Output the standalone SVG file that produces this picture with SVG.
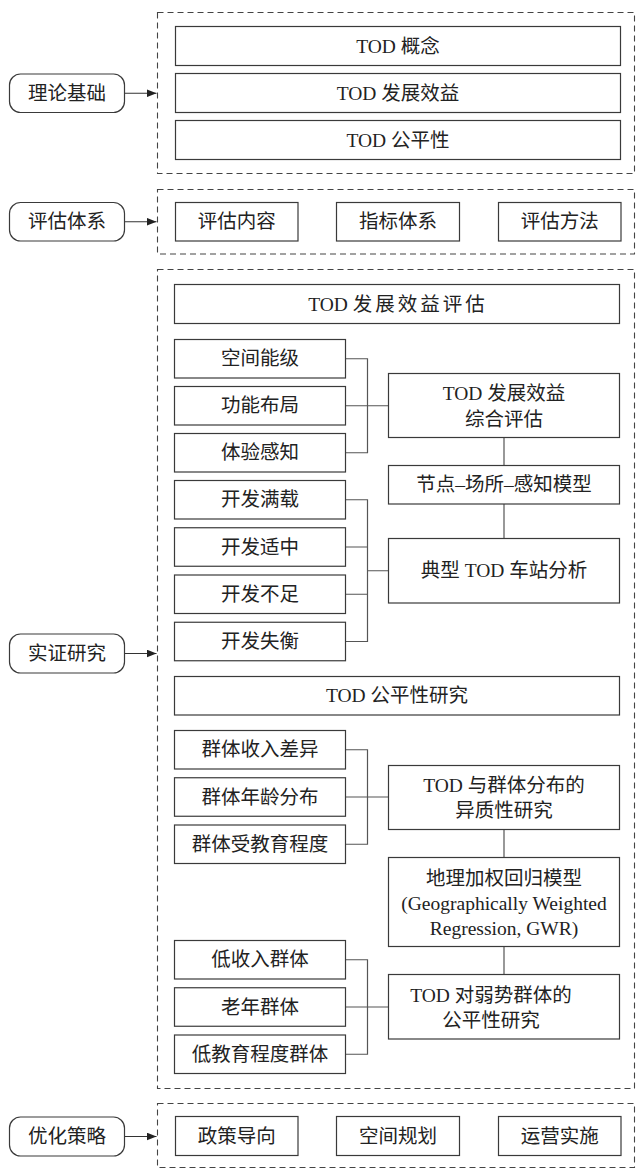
<svg xmlns="http://www.w3.org/2000/svg" width="636" height="1169" viewBox="0 0 636 1169">
<defs>
<style>
.bg{fill:#ffffff}
.dash{fill:none;stroke:#444;stroke-width:1.1;stroke-dasharray:6,4}
.box{fill:#fff;stroke:#3a3a3a;stroke-width:1.2}
.pill{fill:#fff;stroke:#3a3a3a;stroke-width:1.2}
.ln{fill:none;stroke:#555;stroke-width:1.2}
.arr{fill:none;stroke:#333;stroke-width:1.2}
.sp{letter-spacing:3px}
text{font-family:"Liberation Serif","Noto Sans CJK SC",sans-serif;font-size:19.5px;fill:#222;text-anchor:middle;dominant-baseline:central}
</style>
<marker id="ah" markerUnits="userSpaceOnUse" markerWidth="10" markerHeight="8" viewBox="0 0 10 8" refX="10" refY="4" orient="auto">
<path d="M0,0 L10,4 L0,8 z" fill="#222"/>
</marker>
</defs>
<rect class="bg" x="0" y="0" width="636" height="1169"/>

<g id="sections">
<rect class="dash" x="157.5" y="12.5" width="477" height="161"/>
<rect class="dash" x="157.5" y="189.5" width="477" height="64.5"/>
<rect class="dash" x="157.5" y="269.5" width="477" height="819"/>
<rect class="dash" x="157.5" y="1103.5" width="477" height="64"/>
</g>

<g id="connectors">
<line class="arr" x1="124.5" y1="93.25" x2="156.5" y2="93.25" marker-end="url(#ah)"/>
<line class="arr" x1="124.5" y1="221.75" x2="156.5" y2="221.75" marker-end="url(#ah)"/>
<line class="arr" x1="124.5" y1="653.5" x2="156.5" y2="653.5" marker-end="url(#ah)"/>
<line class="arr" x1="124.5" y1="1136.5" x2="156.5" y2="1136.5" marker-end="url(#ah)"/>
<path class="ln" d="M345.5,358.75 H367.5 V452.75 H345.5 M345.5,405.75 H388.5"/>
<path class="ln" d="M504,437.5 V465.5 M504,504 V538.5"/>
<path class="ln" d="M345.5,499.75 H367.5 V641.5 H345.5 M345.5,547 H367.5 M345.5,594.25 H367.5 M367.5,570.75 H388.5"/>
<path class="ln" d="M345.5,749.75 H367.5 V844.25 H345.5 M345.5,797 H388.5"/>
<path class="ln" d="M504,829.5 V857.5 M504,946.5 V974.5"/>
<path class="ln" d="M345.5,959.75 H367.5 V1054.25 H345.5 M345.5,1007 H388.5"/>
</g>

<g id="n-lilun"><rect class="pill" x="9.5" y="74" width="115" height="38.5" rx="11"/><text x="67" y="93.25">理论基础</text></g>
<g id="n-pinggu"><rect class="pill" x="9.5" y="202.5" width="115" height="38.5" rx="11"/><text x="67" y="221.75">评估体系</text></g>
<g id="n-shizheng"><rect class="pill" x="9.5" y="634" width="115" height="39" rx="11"/><text x="67" y="653.5">实证研究</text></g>
<g id="n-youhua"><rect class="pill" x="9.5" y="1117" width="115" height="39" rx="11"/><text x="67" y="1136.5">优化策略</text></g>

<g id="n-gainian"><rect class="box" x="175.5" y="26.5" width="445" height="39"/><text x="398" y="46">TOD 概念</text></g>
<g id="n-xiaoyi"><rect class="box" x="175.5" y="73.5" width="445" height="39"/><text x="398" y="93">TOD 发展效益</text></g>
<g id="n-gongping"><rect class="box" x="175.5" y="120.5" width="445" height="39"/><text x="398" y="140">TOD 公平性</text></g>

<g id="n-neirong"><rect class="box" x="175.5" y="202.5" width="122.5" height="38.5"/><text x="236.75" y="221.75">评估内容</text></g>
<g id="n-zhibiao"><rect class="box" x="336.5" y="202.5" width="123" height="38.5"/><text x="398" y="221.75">指标体系</text></g>
<g id="n-fangfa"><rect class="box" x="498.5" y="202.5" width="122.5" height="38.5"/><text x="559.75" y="221.75">评估方法</text></g>

<g id="n-xiaoyipg"><rect class="box" x="174.5" y="284.5" width="445" height="39"/><text x="398" y="304">TOD <tspan class="sp">发展效益评估</tspan></text></g>
<g id="n-kongjian"><rect class="box" x="174.5" y="339.5" width="171" height="38.5"/><text x="260" y="358.75">空间能级</text></g>
<g id="n-gongneng"><rect class="box" x="174.5" y="386.5" width="171" height="38.5"/><text x="260" y="405.75">功能布局</text></g>
<g id="n-tiyan"><rect class="box" x="174.5" y="433.5" width="171" height="38.5"/><text x="260" y="452.75">体验感知</text></g>
<g id="n-zonghe"><rect class="box" x="388.5" y="373.5" width="231" height="64"/><text x="504" y="393">TOD 发展效益</text><text x="504" y="419">综合评估</text></g>
<g id="n-jiedian"><rect class="box" x="388.5" y="465.5" width="231" height="38.5"/><text x="504" y="484.75">节点–场所–感知模型</text></g>
<g id="n-manzai"><rect class="box" x="174.5" y="480.5" width="171" height="38.5"/><text x="260" y="499.75">开发满载</text></g>
<g id="n-shizhong"><rect class="box" x="174.5" y="527.75" width="171" height="38.5"/><text x="260" y="547">开发适中</text></g>
<g id="n-buzu"><rect class="box" x="174.5" y="575" width="171" height="38.5"/><text x="260" y="594.25">开发不足</text></g>
<g id="n-shiheng"><rect class="box" x="174.5" y="622.25" width="171" height="38.5"/><text x="260" y="641.5">开发失衡</text></g>
<g id="n-dianxing"><rect class="box" x="388.5" y="538.5" width="231" height="64.5"/><text x="504" y="570.75">典型 TOD 车站分析</text></g>

<g id="n-gpyj"><rect class="box" x="174.5" y="676.5" width="445" height="38.5"/><text x="397" y="695.75">TOD 公平性研究</text></g>
<g id="n-shouru"><rect class="box" x="174.5" y="730.5" width="171" height="38.5"/><text x="260" y="749.75">群体收入差异</text></g>
<g id="n-nianling"><rect class="box" x="174.5" y="777.75" width="171" height="38.5"/><text x="260" y="797">群体年龄分布</text></g>
<g id="n-jiaoyu"><rect class="box" x="174.5" y="825" width="171" height="38.5"/><text x="260" y="844.25">群体受教育程度</text></g>
<g id="n-yizhi"><rect class="box" x="388.5" y="765.5" width="231" height="64"/><text x="504" y="785">TOD 与群体分布的</text><text x="504" y="810">异质性研究</text></g>
<g id="n-gwr"><rect class="box" x="388.5" y="857.5" width="231" height="89"/><text x="504" y="878">地理加权回归模型</text><text x="504" y="903">(Geographically Weighted</text><text x="504" y="928">Regression, GWR)</text></g>
<g id="n-dishouru"><rect class="box" x="174.5" y="940.5" width="171" height="38.5"/><text x="260" y="959.75">低收入群体</text></g>
<g id="n-laonian"><rect class="box" x="174.5" y="987.75" width="171" height="38.5"/><text x="260" y="1007">老年群体</text></g>
<g id="n-dijiaoyu"><rect class="box" x="174.5" y="1035" width="171" height="38.5"/><text x="260" y="1054.25">低教育程度群体</text></g>
<g id="n-ruoshi"><rect class="box" x="388.5" y="974.5" width="231" height="64.5"/><text x="491" y="995">TOD 对弱势群体的</text><text x="491" y="1020">公平性研究</text></g>

<g id="n-zhengce"><rect class="box" x="175.5" y="1116.5" width="122.5" height="39"/><text x="236.75" y="1136">政策导向</text></g>
<g id="n-guihua"><rect class="box" x="336.5" y="1116.5" width="123" height="39"/><text x="398" y="1136">空间规划</text></g>
<g id="n-yunying"><rect class="box" x="498.5" y="1116.5" width="122.5" height="39"/><text x="559.75" y="1136">运营实施</text></g>
</svg>
